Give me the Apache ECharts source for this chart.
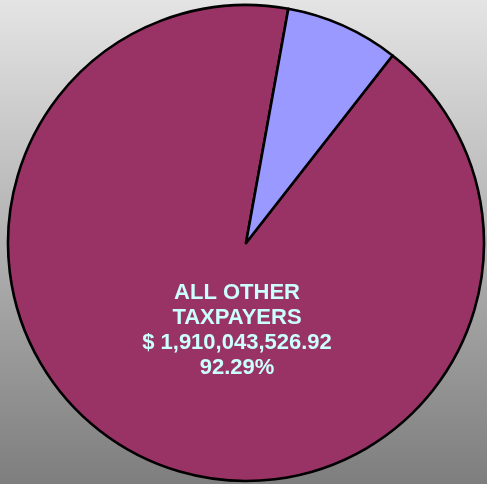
<!DOCTYPE html>
<html>
<head>
<meta charset="utf-8">
<script src="https://cdn.jsdelivr.net/npm/echarts@6/dist/echarts.min.js"></script>
<style>
html,body{margin:0;padding:0;}
#chart{width:487px;height:484px;}
</style>
</head>
<body>
<div id="chart"></div>
<script>
const categories = ["ALL OTHER\nTAXPAYERS", "TOP TAXPAYERS"];
const values = [1910043526.92, 159566752.00];
const percents = ["92.29%", "7.71%"];
const colors = ["#993366", "#9999FF"];
const showLabel = [true, false];

function fmtMoney(v) {
  return v.toLocaleString("en-US", {minimumFractionDigits: 2, maximumFractionDigits: 2});
}

const chart = echarts.init(document.getElementById("chart"));
chart.setOption({
  backgroundColor: {
    type: "linear", x: 0, y: 0, x2: 0, y2: 1,
    colorStops: [{offset: 0, color: "#e4e4e4"}, {offset: 1, color: "#7e7e7e"}]
  },
  animation: false,
  series: [{
    type: "pie",
    center: [246, 243],
    radius: 238,
    startAngle: 52,
    clockwise: true,
    labelLine: {show: false},
    itemStyle: {borderColor: "#000000", borderWidth: 2.6},
    data: categories.map((c, i) => ({
      name: c,
      value: values[i],
      itemStyle: {color: colors[i]},
      label: {
        show: showLabel[i],
        position: "center",
        offset: [-9, 87],
        formatter: () => c + "\n$ " + fmtMoney(values[i]) + "\n" + percents[i],
        color: "#CCFFFF",
        fontFamily: "Liberation Sans, Arial, sans-serif",
        fontWeight: "bold",
        fontSize: 22,
        lineHeight: 25,
        align: "center"
      }
    }))
  }]
});
</script>
</body>
</html>
